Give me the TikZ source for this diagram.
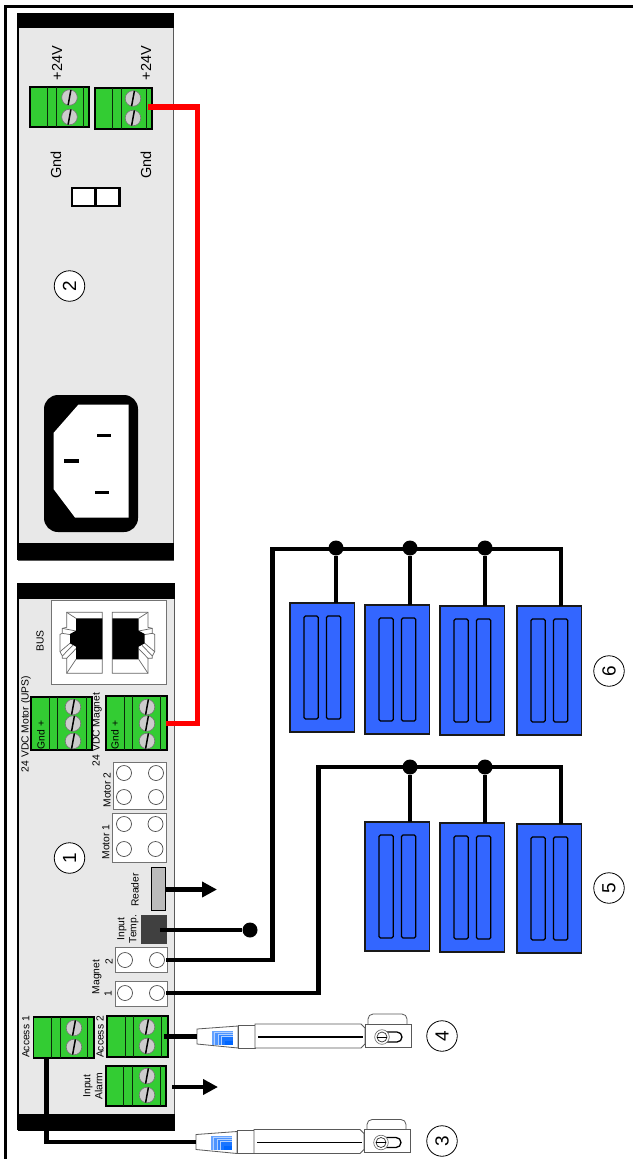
\documentclass[tikz,border=0pt]{standalone}
\usepackage{fontspec}
\setmainfont{Liberation Sans}
\usetikzlibrary{arrows.meta,calc}
\definecolor{panelgray}{HTML}{E8E8E8}
\definecolor{termgreen}{HTML}{33CC33}
\definecolor{screwgray}{HTML}{CCCCCC}
\definecolor{magblue}{HTML}{3366FF}
\definecolor{readergray}{HTML}{BBBBBB}
\definecolor{tempgray}{HTML}{404040}
\definecolor{wirered}{HTML}{FF0000}
\definecolor{sb1}{HTML}{66A3FF}
\definecolor{sb2}{HTML}{4D94FF}
\definecolor{sb3}{HTML}{3385FF}
\definecolor{sb4}{HTML}{1A75FF}
\definecolor{sb5}{HTML}{0066FF}
\definecolor{sbl}{HTML}{B3D1FF}
\tikzset{
  lab/.style={font=\fontsize{10.3}{12}\selectfont,rotate=90,inner sep=0pt,align=center},
  biglab/.style={font=\fontsize{14.5}{16}\selectfont,rotate=90,inner sep=0pt},
  num/.style={circle,draw=black,line width=.8pt,fill=white,minimum size=30.5pt,inner sep=0pt,rotate=90,font=\fontsize{19}{20}\selectfont},
  panelbody/.style={fill=panelgray,draw=black!65,line width=.8pt},
  panelbar/.style={fill=black,draw=none},
  termbox/.style={fill=termgreen,draw=black,line width=1.8pt},
  termline/.style={draw=black!80!termgreen,line width=.6pt},
  socket/.style={fill=white,draw=black!55,line width=.9pt},
  hole/.style={fill=white,draw=black!70,line width=.7pt},
  wire/.style={draw=black,line width=4.6pt,line join=miter},
  redwire/.style={draw=wirered,line width=5.8pt,line join=miter},
  outwire/.style={draw=black,line width=4.6pt,-{Triangle[length=15pt,width=15pt]}},
  joint/.style={circle,fill=black,inner sep=0pt,minimum size=15pt},
  magbox/.style={fill=magblue,draw=black!90,line width=1.1pt},
  magslot/.style={draw=black,line width=1.3pt,rounded corners=1.5pt},
  part/.style={fill=white,draw=black!65,line width=.8pt},
  sbline/.style={draw=sbl,line width=.4pt},
}
\newcommand{\rnode}[6][]{%
  \pgfmathsetmacro{\rw}{abs(#5-#3)}\pgfmathsetmacro{\rh}{abs(#6-#4)}%
  \node[rectangle,inner sep=0pt,outer sep=0pt,minimum width=\rw pt,minimum height=\rh pt,#1] (#2) at ({(#3+#5)/2},{(#4+#6)/2}) {};}
\newcommand{\screw}[2]{%
  \draw[fill=screwgray,draw=black!55,line width=.6pt] (#1,#2) circle (7.8pt);
  \draw[black,line width=1.5pt] ({#1+1.4},{#2-7.6}) -- ({#1-1.4},{#2+7.6});}
% name, x1,y1,x2,y2, line x a, b, c
\newcommand{\termblock}[8]{%
  \rnode[termbox]{#1}{#2}{#3}{#4}{#5}
  \draw[termline] (#6,#3) -- (#6,#5);
  \draw[termline,line width=.9pt] (#7,#3) -- (#7,#5);
  \draw[termline] (#8,#3) -- (#8,#5);}
\newcommand{\magnetbox}[3]{%
  \rnode[magbox]{#1}{#2}{#3}{#2+64.5}{#3+129}
  \draw[magslot] ({#2+14},{#3+13}) rectangle ({#2+28.3},{#3+116});
  \draw[magslot] ({#2+36.5},{#3+13}) rectangle ({#2+50.8},{#3+116});}
\newcommand{\rjport}{%
  \draw[fill=white,draw=black!60,line width=.7pt] (50,37) -- (157,37) -- (157,220) -- (50,220) -- (50,175) -- (37,175) -- (37,168) -- (30,155) -- (30,103) -- (37,100) -- (37,85) -- (50,82) -- cycle;
  \draw[draw=black!60,line width=.7pt] (50,37) -- (78,55) (50,220) -- (78,178) (37,100) -- (62,104) (37,85) -- (78,93) (30,155) -- (62,128) (37,168) -- (68,136) (50,175) -- (78,146);
  \fill[black] (78,55) -- (157,55) -- (157,178) -- (78,178) -- (78,140) -- (60,130) -- (60,102) -- (78,92) -- cycle;}
\newcommand{\sensor}[3]{%
\begin{scope}[shift={(#2,#3)}]
  \coordinate (#1-in) at (197,1036.5);
  \draw[part] (197,1029) -- (238,1026) -- (238,1048) -- (197,1044) -- cycle;
  \fill[sb1] (212,1030.5) rectangle (233,1044.5);
  \fill[sb2] (215,1032.5) rectangle (233,1044.5);
  \draw[sbline] (214.5,1044.5) -- (214.5,1032) -- (233,1032);
  \fill[sb3] (219,1034.5) rectangle (233,1044.5);
  \draw[sbline] (218.5,1044.5) -- (218.5,1034) -- (233,1034);
  \fill[sb4] (222,1036.5) rectangle (233,1044.5);
  \draw[sbline] (221.5,1044.5) -- (221.5,1036) -- (233,1036);
  \fill[sb5] (225,1040.5) rectangle (233,1044.5);
  \draw[part] (238,1025) rectangle (255,1048);
  \draw[part,line width=.9pt] (255,1024) -- (361,1024) -- (365,1028) -- (365,1044) -- (361,1048) -- (255,1048) -- cycle;
  \draw[black,line width=1.4pt] (258,1037) -- (363,1037);
  \draw[part] (368,1024) -- (368,1019) arc[start angle=180,end angle=90,radius=5pt] -- (402,1014) arc[start angle=90,end angle=0,radius=5pt] -- (407,1024);
  \draw[part,line width=.9pt] (365,1024) rectangle (411,1047);
  \draw[black,line width=1.3pt] (382,1032) -- (397,1032) arc[start angle=90,end angle=-90,radius=5pt] -- (382,1042);
  \draw[fill=white,draw=black!60,line width=.6pt] (382,1037) circle (7.3pt);
  \draw[fill=white,draw=black!80,line width=.7pt] (382,1037) circle (5pt);
  \draw[black,line width=1pt] (377,1037) -- (387,1037);
\end{scope}}
\begin{document}
\begin{tikzpicture}[x=1pt,y=-1pt]
\useasboundingbox (0,0) rectangle (632,1159);
\fill[white] (0,0) rectangle (632,1159);
% outer frame
\draw[black,line width=2.2pt] (5.5,1161) -- (5.5,6.5) -- (634,6.5);

% ---------- panel 2
\rnode[panelbody]{p2}{18}{13}{173}{560}
\rnode[panelbar]{p2top}{17.5}{12.5}{173.5}{28}
\rnode[panelbar]{p2bot}{17.5}{543}{173.5}{560}
\draw[black,line width=1.5pt] (18,13) -- (18,560);
\termblock{ta}{30}{87}{89}{127}{47}{56}{83}
\screw{69.5}{97.5}\screw{69.5}{117}
\termblock{tb}{95}{88}{152}{129}{112}{121}{146}
\screw{133}{98.5}\screw{133}{118}
\node[biglab] (v1) at (57,63) {+24V};
\node[biglab] (v2) at (146,63) {+24V};
\node[biglab] (g1) at (56,165) {Gnd};
\node[biglab] (g2) at (146,165) {Gnd};
\rnode[fill=white,draw=black,line width=2.4pt]{jl}{72}{188}{95.5}{206}
\rnode[fill=white,draw=black,line width=2.4pt]{jr}{95.5}{188}{119.5}{206}
\node[num] (n2) at (69.5,286) {2};
% inlet
\rnode[fill=black,rounded corners=14pt]{inlet}{44}{395}{138}{532}
\fill[white] (78.5,404.5) -- (128.5,404.5) -- (128.5,517.5) -- (75,517.5) -- (53.5,489) -- (53.5,433) -- cycle;
\draw[black,line width=3.4pt] (97,435.7) -- (111,435.7) (64,461) -- (79,461) (95,492.7) -- (109,492.7);

% ---------- panel 1
\rnode[panelbody]{p1}{18}{583}{174}{1130}
\rnode[panelbar]{p1top}{17.5}{583}{174.5}{599}
\rnode[panelbar]{p1bot}{17.5}{1114}{174.5}{1130.5}
\draw[black,line width=1.5pt] (18,583) -- (18,1130);
% BUS
\rnode[fill=white,draw=black!55,line width=.9pt]{bus}{51.5}{600}{166}{684}
\begin{scope}[shift={(50,600)},x=.33333pt,y=-.33333pt]\rjport\end{scope}
\begin{scope}[shift={(164.67,600)},x=-.33333pt,y=-.33333pt]\rjport\end{scope}
\node[lab] (busl) at (40,641) {BUS};
% motor / magnet terminals
\termblock{tm}{31}{697}{92}{750}{49}{57.5}{86}
\screw{73}{707}\screw{73}{723.5}\screw{73}{741}
\termblock{tg}{106}{696}{167}{750}{124}{132.5}{160}
\screw{147}{707}\screw{147}{723.5}\screw{147}{741}
\node[lab] (gm) at (41,735) {Gnd +};
\node[lab] (gg) at (115,735) {Gnd +};
\node[lab] (lm) at (26,724) {24 VDC Motor (UPS)};
\node[lab] (lg) at (97,729.5) {24 VDC Magnet};
% motor sockets
\rnode[socket]{m2}{113}{762}{166}{809}
\foreach \cx in {124,156}\foreach \cy in {773,797}{\draw[hole] (\cx,\cy) circle (7.5pt);}
\rnode[socket]{m1}{112.5}{813.5}{166}{862}
\foreach \cx in {124,155.5}\foreach \cy in {824,849}{\draw[hole] (\cx,\cy) circle (7.5pt);}
\node[lab] (lm2) at (107,790) {Motor 2};
\node[lab] (lm1) at (106,842) {Motor 1};
\node[num] (n1) at (69.5,858) {1};
% reader
\rnode[fill=readergray,draw=black,line width=1.5pt]{rd}{151.5}{867.5}{165.5}{910.5}
\node[lab] (lrd) at (135,890) {Reader};
% temp
\rnode[fill=tempgray]{tmp}{141}{915}{167}{944}
\node[lab] (lt) at (128,929) {Input\\Temp.};
% magnet sockets
\rnode[socket]{g2b}{115}{947}{167.5}{972}
\draw[hole] (125,960) circle (7.5pt); \draw[hole] (157,960) circle (7.5pt);
\rnode[socket]{g1b}{115}{981}{167.5}{1006}
\draw[hole] (125,993) circle (7.5pt); \draw[hole] (157,993) circle (7.5pt);
\node[lab] (lmg) at (97,977) {Magnet};
\node[lab] (lg2) at (109,962) {2};
\node[lab] (lg1) at (108,994) {1};
% access terminals
\termblock{ta1}{33.5}{1017}{94}{1058}{51}{60}{87}
\screw{74}{1028}\screw{74}{1047}
\termblock{ta2}{107}{1016}{168}{1057}{125}{133.5}{161}
\screw{147}{1027}\screw{147}{1046}
\termblock{tal}{106}{1066}{166}{1106}{123}{132.5}{160}
\screw{147}{1076}\screw{147}{1095}
\node[lab] (la1) at (26,1037) {Access 1};
\node[lab] (la2) at (100,1037) {Access 2};
\node[lab] (lal) at (93,1086) {Input\\Alarm};

% ---------- magnets
\magnetbox{a1}{290}{603}\magnetbox{a2}{365}{605}\magnetbox{a3}{440}{606}\magnetbox{a4}{517}{606}
\magnetbox{b2}{365}{822}\magnetbox{b3}{440}{823}\magnetbox{b4}{517}{824}
\node[num] (n6) at (609,671) {6};
\node[num] (n5) at (609,888) {5};

% ---------- sensors
\sensor{s4}{0}{0}
\sensor{s3}{-1}{105.5}
\node[num] (n4) at (442,1036) {4};
\node[num] (n3) at (442,1141) {3};

% ---------- wire end points
\coordinate (rs) at (148,107);
\coordinate (re) at (166,723.5);
\coordinate (rdo) at (166,889.5);
\coordinate (rdt) at (217,889.5);
\coordinate (tmpo) at (160,930);
\coordinate (g2o) at (166,960);
\coordinate (g1o) at (166,993);
\coordinate (a2o) at (164,1036.5);
\coordinate (a1o) at (46.5,1057);
\coordinate (alo) at (172,1087);
\coordinate (alt) at (218,1087);
\node[joint] (jt) at (250,930) {};
\node[joint] (d1) at (336,548) {};
\node[joint] (d2) at (410,548) {};
\node[joint] (d3) at (485,548) {};
\node[joint] (e2) at (410,767) {};
\node[joint] (e3) at (485,767) {};
\coordinate (hb1) at (272.5,549);
\coordinate (hb2) at (561,549);
\coordinate (hc1) at (318.5,767);
\coordinate (hc2) at (561,767);

% ---------- wires
\draw[redwire] (re) -- (197.5,723.5) -- (197.5,107) -- (rs);
\draw[outwire] (rdo) -- (rdt);
\draw[outwire] (alo) -- (alt);
\draw[wire] (tmpo) -- (jt);
\draw[wire] (g2o) -- (g2o -| hb1) -- (hb1) -- (hb2) -- (a4.north -| hb2);
\draw[wire] (g1o) -- (g1o -| hc1) -- (hc1) -- (hc2) -- (b4.north -| hc2);
\draw[wire] (d1) -- (d1 |- a1.north);
\draw[wire] (d2) -- (d2 |- a2.north);
\draw[wire] (d3) -- (d3 |- a3.north);
\draw[wire] (e2) -- (e2 |- b2.north);
\draw[wire] (e3) -- (e3 |- b3.north);
\draw[wire] (a2o) -- (s4-in);
\draw[wire] (a1o) -- (a1o |- s3-in) -- (s3-in);
\end{tikzpicture}
\end{document}
